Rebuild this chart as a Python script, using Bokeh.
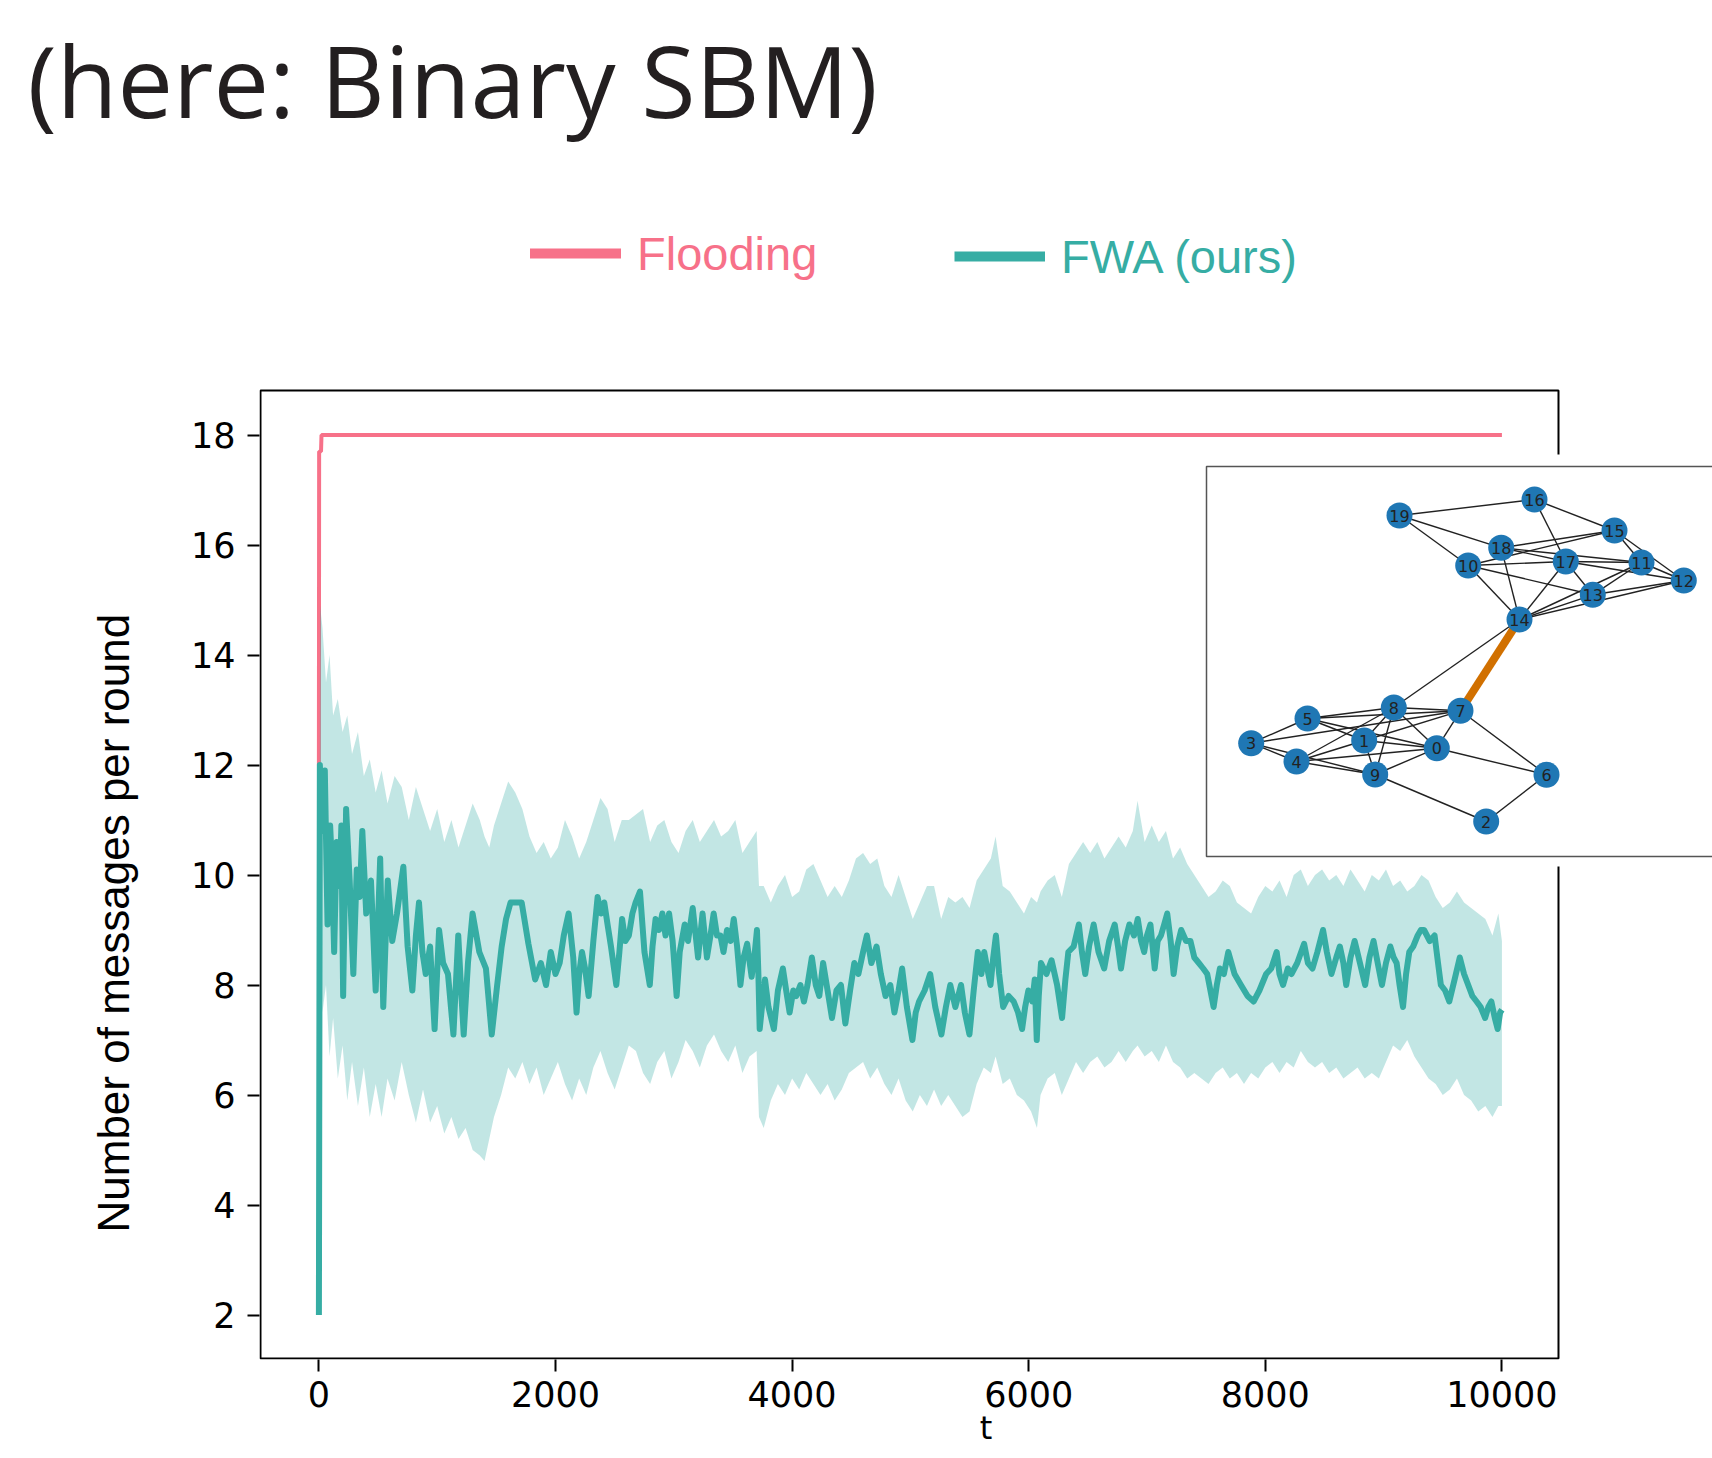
import numpy as np
from bokeh.plotting import figure
from bokeh.models import (Range1d, FixedTicker, Legend, LegendItem, Title, BoxAnnotation)
from bokeh.embed import file_html
from bokeh.resources import INLINE
from bokeh.core.properties import value

# ---------------- data ----------------
x_ticks = [0, 2000, 4000, 6000, 8000, 10000]
y_ticks = [2, 4, 6, 8, 10, 12, 14, 16, 18]

flood_t = [0, 2, 18, 22, 10000]
flood_v = [12.0, 17.7, 17.7, 18.0, 18.0]

fwa_t = [0, 8, 20, 35, 50, 73, 95, 110, 129, 150, 175, 190, 205, 230, 260, 291, 320, 345, 367, 400,
         440, 480, 518, 544, 582, 620, 660, 714, 750, 790, 820, 846, 875, 903, 940, 978, 1016, 1050,
         1091, 1137, 1178, 1200, 1224, 1260, 1299, 1356, 1412, 1461, 1507, 1545, 1582, 1620, 1658,
         1714, 1771, 1828, 1876, 1920, 1960, 2000, 2035, 2070, 2111, 2150, 2178, 2200, 2224, 2250,
         2280, 2320, 2356, 2385, 2412, 2440, 2469, 2514, 2540, 2563, 2590, 2620, 2650, 2677, 2714,
         2752, 2797, 2820, 2846, 2875, 2903, 2930, 2960, 2990, 3024, 3050, 3092, 3120, 3160, 3185,
         3205, 3243, 3280, 3310, 3337, 3365, 3394, 3420, 3450, 3480, 3507, 3535, 3563, 3590, 3620,
         3658, 3685, 3703, 3715, 3726, 3750, 3771, 3800, 3846, 3880, 3922, 3950, 3979, 4010, 4035,
         4070, 4100, 4130, 4167, 4200, 4230, 4262, 4300, 4337, 4375, 4413, 4450, 4490, 4526, 4560,
         4600, 4632, 4670, 4714, 4750, 4790, 4830, 4865, 4900, 4930, 4970, 5017, 5045, 5073, 5120,
         5167, 5210, 5262, 5300, 5337, 5380, 5428, 5460, 5499, 5535, 5570, 5600, 5624, 5650, 5677,
         5700, 5723, 5750, 5784, 5830, 5873, 5910, 5944, 5970, 5997, 6030, 6051, 6068, 6085, 6104,
         6150, 6193, 6240, 6282, 6310, 6335, 6380, 6424, 6450, 6478, 6510, 6549, 6590, 6638, 6680,
         6727, 6755, 6780, 6815, 6851, 6890, 6922, 6950, 6976, 7000, 7029, 7047, 7065, 7090, 7118,
         7145, 7171, 7200, 7225, 7255, 7289, 7330, 7367, 7400, 7438, 7475, 7509, 7563, 7590, 7616,
         7650, 7687, 7740, 7794, 7850, 7901, 7950, 8007, 8050, 8096, 8120, 8150, 8190, 8221, 8270,
         8328, 8360, 8399, 8440, 8488, 8520, 8559, 8600, 8630, 8660, 8684, 8720, 8755, 8800, 8844,
         8880, 8915, 8950, 8986, 9020, 9057, 9085, 9110, 9135, 9164, 9190, 9217, 9250, 9288, 9315,
         9342, 9390, 9431, 9460, 9484, 9520, 9555, 9600, 9644, 9680, 9715, 9750, 9786, 9820, 9858,
         9885, 9911, 9940, 9964, 9985, 10000]
fwa_mean = [2.0, 12.0, 11.4, 10.8, 11.9, 9.1, 10.9, 10.2, 8.6, 10.6, 9.8, 10.9, 7.8, 11.2, 9.9, 8.2,
            10.1, 9.6, 10.8, 9.3, 9.9, 7.9, 10.3, 7.6, 9.9, 8.8, 9.3, 10.15, 8.7, 7.9, 8.9, 9.5, 8.6,
            8.2, 8.7, 7.2, 9.0, 8.4, 8.2, 7.1, 8.9, 8.0, 7.1, 8.4, 9.3, 8.6, 8.3, 7.1, 8.0, 8.7, 9.2,
            9.5, 9.5, 9.5, 8.75, 8.1, 8.4, 8.0, 8.6, 8.2, 8.4, 8.9, 9.3, 8.5, 7.5, 8.2, 8.6, 8.3, 7.8,
            8.8, 9.6, 9.3, 9.5, 9.1, 8.7, 8.0, 8.6, 9.2, 8.8, 8.9, 9.3, 9.5, 9.7, 8.6, 8.0, 8.7, 9.2,
            9.0, 9.3, 8.9, 9.3, 8.8, 7.8, 8.6, 9.1, 8.8, 9.4, 8.9, 8.5, 9.3, 8.5, 8.9, 9.3, 8.9, 8.9,
            8.6, 9.0, 8.8, 9.2, 8.7, 8.0, 8.5, 8.75, 8.15, 8.6, 9.0, 8.2, 7.2, 7.7, 8.1, 7.6, 7.2,
            7.9, 8.3, 7.9, 7.5, 7.9, 7.8, 8.0, 7.7, 8.0, 8.5, 8.0, 7.8, 8.4, 7.9, 7.4, 7.9, 8.0, 7.3,
            7.9, 8.4, 8.2, 8.6, 8.9, 8.4, 8.7, 8.2, 7.8, 8.0, 7.5, 7.9, 8.3, 7.6, 7.0, 7.5, 7.7, 7.9,
            8.2, 7.6, 7.1, 7.6, 8.0, 7.6, 8.0, 7.5, 7.1, 7.9, 8.6, 8.2, 8.6, 8.3, 8.0, 8.5, 8.9, 8.2,
            7.6, 7.8, 7.7, 7.5, 7.2, 7.6, 7.9, 7.7, 8.1, 7.0, 7.8, 8.4, 8.2, 8.45, 8.0, 7.4, 8.1, 8.6,
            8.7, 9.1, 8.6, 8.2, 8.7, 9.1, 8.6, 8.3, 8.8, 9.1, 8.7, 8.3, 8.8, 9.1, 8.9, 9.2, 8.8, 8.6,
            8.9, 9.1, 8.7, 8.3, 8.8, 8.9, 9.1, 9.3, 8.8, 8.2, 8.7, 9.0, 8.8, 8.8, 8.5, 8.4, 8.3, 8.2,
            7.6, 8.0, 8.3, 8.2, 8.6, 8.2, 8.0, 7.8, 7.7, 7.9, 8.2, 8.3, 8.6, 8.2, 8.0, 8.3, 8.2, 8.4,
            8.75, 8.4, 8.3, 8.6, 9.0, 8.6, 8.2, 8.5, 8.7, 8.4, 8.0, 8.5, 8.8, 8.4, 8.0, 8.5, 8.8, 8.4,
            8.0, 8.4, 8.7, 8.5, 8.4, 8.0, 7.6, 8.2, 8.6, 8.7, 8.9, 9.0, 9.0, 8.8, 8.9, 8.4, 8.0, 7.9,
            7.7, 8.1, 8.5, 8.2, 8.0, 7.8, 7.7, 7.6, 7.4, 7.6, 7.7, 7.4, 7.2, 7.5, 7.55]

band_t = [0, 10, 30, 60, 90, 120, 160, 200, 240, 280, 330, 380, 430, 480, 530, 580, 640, 700, 760,
          820, 880, 940, 1000, 1060, 1120, 1180, 1240, 1300, 1360, 1400, 1440, 1480, 1540, 1600,
          1660, 1720, 1780, 1840, 1900, 1960, 2020, 2080, 2140, 2200, 2260, 2320, 2380, 2440, 2500,
          2560, 2620, 2680, 2740, 2800, 2860, 2920, 2980, 3040, 3100, 3160, 3220, 3280, 3340, 3400,
          3460, 3520, 3580, 3640, 3700, 3720, 3760, 3820, 3880, 3940, 4000, 4060, 4120, 4180, 4240,
          4300, 4360, 4420, 4480, 4540, 4600, 4660, 4720, 4780, 4840, 4900, 4960, 5020, 5080, 5140,
          5200, 5260, 5320, 5380, 5440, 5500, 5560, 5620, 5680, 5720, 5780, 5840, 5900, 5960, 6020,
          6070, 6100, 6160, 6220, 6280, 6340, 6400, 6460, 6520, 6580, 6640, 6700, 6760, 6820, 6880,
          6920, 6980, 7040, 7100, 7160, 7220, 7280, 7340, 7400, 7460, 7520, 7580, 7640, 7700, 7760,
          7820, 7880, 7940, 8000, 8060, 8120, 8180, 8240, 8300, 8360, 8420, 8480, 8540, 8600, 8660,
          8720, 8780, 8840, 8900, 8960, 9020, 9080, 9140, 9200, 9260, 9320, 9380, 9440, 9500, 9560,
          9620, 9680, 9740, 9800, 9860, 9920, 9970, 10000]
band_lo = [2.0, 9.0, 7.5, 8.0, 6.7, 7.4, 6.3, 6.9, 5.9, 6.6, 5.8, 6.5, 5.6, 6.2, 5.6, 6.3, 5.9, 6.6,
           6.0, 5.5, 6.1, 5.5, 5.8, 5.3, 5.6, 5.2, 5.4, 5.0, 4.9, 4.8, 5.2, 5.6, 6.0, 6.5, 6.3, 6.6,
           6.2, 6.5, 6.0, 6.3, 6.6, 6.2, 5.9, 6.3, 6.0, 6.5, 6.8, 6.4, 6.1, 6.5, 6.9, 6.8, 6.4, 6.2,
           6.6, 6.8, 6.3, 6.6, 7.0, 6.8, 6.5, 6.9, 7.1, 6.8, 6.6, 6.9, 6.4, 6.7, 6.8, 5.6, 5.4, 5.9,
           6.2, 6.0, 6.3, 6.1, 6.4, 6.2, 6.0, 6.2, 5.9, 6.1, 6.4, 6.5, 6.6, 6.3, 6.5, 6.2, 6.0, 6.3,
           5.9, 5.7, 6.0, 5.8, 6.1, 5.8, 6.0, 5.8, 5.6, 5.7, 6.2, 6.5, 6.4, 6.7, 6.2, 6.3, 6.0, 5.9,
           5.7, 5.4, 6.0, 6.3, 6.4, 6.0, 6.3, 6.6, 6.4, 6.6, 6.7, 6.5, 6.6, 6.8, 6.6, 6.8, 6.9, 6.7,
           6.8, 6.6, 6.9, 6.6, 6.5, 6.3, 6.4, 6.3, 6.2, 6.4, 6.5, 6.3, 6.4, 6.2, 6.4, 6.3, 6.5, 6.6,
           6.4, 6.6, 6.5, 6.8, 6.6, 6.5, 6.6, 6.4, 6.5, 6.3, 6.4, 6.5, 6.3, 6.4, 6.3, 6.6, 6.9, 6.8,
           7.0, 6.7, 6.5, 6.3, 6.2, 6.0, 6.1, 6.3, 6.0, 5.9, 5.7, 5.8, 5.6, 5.8, 5.8]
band_hi = [2.0, 14.9, 14.5, 13.5, 14.0, 12.9, 13.2, 12.6, 12.9, 12.2, 12.6, 11.8, 12.1, 11.5, 11.9,
           11.3, 11.8, 11.6, 11.0, 11.6, 11.2, 10.8, 11.2, 10.6, 11.0, 10.5, 10.9, 11.3, 11.0, 10.7,
           10.5, 10.9, 11.3, 11.7, 11.5, 11.2, 10.7, 10.4, 10.6, 10.3, 10.5, 11.0, 10.7, 10.3, 10.6,
           11.0, 11.4, 11.2, 10.6, 11.0, 11.0, 11.1, 11.2, 10.6, 10.9, 11.0, 10.6, 10.4, 10.8, 11.0,
           10.6, 10.8, 11.0, 10.7, 10.8, 11.0, 10.4, 10.6, 10.8, 9.8, 9.8, 9.5, 9.8, 10.0, 9.6, 9.7,
           10.1, 10.2, 9.9, 9.6, 9.8, 9.6, 9.9, 10.3, 10.4, 10.2, 10.3, 9.8, 9.6, 10.0, 9.6, 9.2,
           9.5, 9.8, 9.8, 9.2, 9.6, 9.5, 9.6, 9.4, 9.9, 10.1, 10.3, 10.7, 9.8, 9.7, 9.5, 9.3, 9.6,
           9.5, 9.7, 9.9, 10.0, 9.6, 10.2, 10.4, 10.6, 10.4, 10.6, 10.3, 10.5, 10.7, 10.5, 10.8,
           11.35, 10.6, 10.9, 10.6, 10.8, 10.3, 10.5, 10.2, 10.0, 9.8, 9.6, 9.7, 9.9, 9.8, 9.5, 9.4,
           9.3, 9.6, 9.8, 9.7, 9.9, 9.6, 10.0, 10.1, 9.8, 10.0, 10.1, 9.9, 10.0, 9.8, 10.1, 9.9, 9.7,
           10.0, 9.9, 10.1, 9.8, 9.9, 9.7, 9.8, 10.0, 9.9, 9.6, 9.4, 9.5, 9.7, 9.5, 9.4, 9.3, 9.2,
           8.9, 9.3, 8.8]

# inset network (layout positions)
node_ids = [str(i) for i in range(20)]
node_x = [230.3, 157.7, 279.7, 44.7, 90.0, 101.0, 340.0, 254.0, 187.3, 168.7,
          261.7, 435.0, 477.3, 386.3, 313.0, 408.0, 328.0, 359.3, 294.7, 193.0]
node_y = [108.3, 116.0, 35.0, 113.3, 95.0, 138.0, 81.7, 145.7, 149.0, 82.0,
          291.0, 294.0, 276.0, 261.7, 237.0, 326.0, 357.0, 295.0, 308.7, 341.0]
edges = [(19, 16), (19, 18), (19, 10), (16, 15), (16, 17), (15, 18), (15, 10), (15, 11), (15, 12),
         (18, 17), (18, 11), (10, 17), (17, 11), (17, 12), (11, 12), (17, 13), (17, 14), (10, 13),
         (10, 14), (18, 14), (14, 13), (14, 11), (14, 12), (13, 11), (13, 12), (14, 8),
         (5, 8), (5, 7), (5, 1), (5, 0), (5, 3), (3, 7), (3, 4), (3, 9), (8, 7), (8, 0), (8, 1),
         (8, 4), (8, 9), (7, 1), (7, 0), (7, 6), (4, 1), (4, 0), (4, 9), (1, 0), (1, 9), (9, 0),
         (9, 2), (0, 6), (6, 2)]
highlight_edge = (14, 7)

PINK = "#f77189"
TEAL = "#36ada4"

# ---------------- geometry (canvas px) ----------------
W, H = 1712, 1458
FL, FR, FT, FB = 259, 1712, 155, 1359      # plotting frame
BOX = dict(left=-493.7, right=10478.3, bottom=1.209, top=18.809)   # main axes box (data units)

p = figure(width=W, height=H, output_backend="svg", toolbar_location=None,
           x_range=Range1d(-502.1, 11780.1),
           y_range=Range1d(18 - (FB - 434.5) / 55.0, 18 - (FT - 434.5) / 55.0),
           min_border_left=FL, min_border_right=W - FR, min_border_top=FT,
           min_border_bottom=H - FB)
p.extra_x_ranges = {"inset": Range1d(FL - 1206, FR - 1206)}
p.extra_y_ranges = {"inset": Range1d(856 - FB, 856 - FT)}
p.grid.visible = False
p.outline_line_color = None
p.background_fill_color = "white"
p.border_fill_color = "white"

for ax in (p.xaxis[0], p.yaxis[0]):
    ax.axis_line_color = None
    ax.major_tick_out = 12
    ax.major_tick_in = 0
    ax.major_tick_line_width = 2
    ax.major_tick_line_color = "black"
    ax.minor_tick_line_color = None
    ax.major_label_text_font = "DejaVu Sans"
    ax.major_label_text_font_size = "35px"
    ax.major_label_text_color = "black"
p.xaxis.ticker = FixedTicker(ticks=x_ticks)
p.yaxis.ticker = FixedTicker(ticks=y_ticks)
p.xaxis.major_label_standoff = 9
p.yaxis.major_label_standoff = 12
p.xaxis.axis_label = "t"
p.xaxis.axis_label_text_font = "DejaVu Sans"
p.xaxis.axis_label_text_font_size = "32px"
p.xaxis.axis_label_text_font_style = "normal"
p.xaxis.axis_label_text_color = "black"
p.xaxis.axis_label_standoff = -1

# y label as a side title so that it can sit where the reference has it
p.add_layout(Title(text="Number of messages per round", align="left", offset=127, standoff=100,
                   vertical_align="bottom", text_font="Liberation Sans", text_font_size="44px",
                   text_font_style="normal", text_color="black"), "left")

# heading
p.title.text = "(here: Binary SBM)"
p.title.align = "left"
p.title.offset = -232
p.title.standoff = 17
p.title.text_font = "Open Sans"
p.title.text_font_size = "99px"
p.title.text_font_style = "normal"
p.title.text_color = "#231f20"

# data
p.line(flood_t, flood_v, line_color=PINK, line_width=4)
p.varea(x=band_t, y1=band_lo, y2=band_hi, fill_color=TEAL, fill_alpha=0.3)
p.line(fwa_t, fwa_mean, line_color=TEAL, line_width=6, line_join="round")

# axes box
p.add_layout(BoxAnnotation(**BOX, fill_alpha=0, line_color="black", line_width=2, line_alpha=1))

# legend (two single-item legends, each label in its series colour)
leg_f = p.line([np.nan, np.nan], [np.nan, np.nan], line_color=PINK, line_width=10, line_cap="round")
leg_w = p.line([np.nan, np.nan], [np.nan, np.nan], line_color=TEAL, line_width=10, line_cap="butt")

def make_legend(label, rend, color, loc):
    return Legend(items=[LegendItem(label=label, renderers=[rend])], location=loc,
                  orientation="horizontal", padding=0, margin=0, spacing=0,
                  border_line_color=None, background_fill_alpha=0,
                  glyph_width=91, glyph_height=56, label_height=56, label_standoff=16,
                  label_text_font="Liberation Sans", label_text_font_size="47px",
                  label_text_color=color)

p.add_layout(make_legend("Flooding", leg_f, PINK, (530 - FL, FB - 225 - 56)))
p.add_layout(make_legend("FWA (ours)", leg_w, TEAL, (954 - FL, FB - 228 - 56)))

# ---------------- inset network ----------------
p.add_layout(BoxAnnotation(left=-12, right=700, bottom=-10, top=402, fill_color="white", fill_alpha=1,
                           line_color=None, x_range_name="inset", y_range_name="inset"))
p.add_layout(BoxAnnotation(left=0, right=700, bottom=0, top=390, fill_alpha=0, line_color="#555555",
                           line_width=1.5, line_alpha=1, x_range_name="inset", y_range_name="inset"))

ex0 = [node_x[a] for a, b in edges]
ey0 = [node_y[a] for a, b in edges]
ex1 = [node_x[b] for a, b in edges]
ey1 = [node_y[b] for a, b in edges]
kw = dict(x_range_name="inset", y_range_name="inset", level="overlay")
p.segment(ex0, ey0, ex1, ey1, line_color="#222222", line_width=1.4, **kw)
ha, hb = highlight_edge
p.segment([node_x[ha]], [node_y[ha]], [node_x[hb]], [node_y[hb]], line_color="#d17000",
          line_width=8, **kw)
p.scatter(node_x, node_y, size=26, fill_color="#1f77b4", line_color=None, **kw)
p.text(node_x, node_y, text=node_ids, text_align="center", text_baseline="middle",
       text_font=value("DejaVu Sans"), text_font_size="16px", text_color="#222222", **kw)

open("out.html", "w").write(file_html(p, INLINE))
